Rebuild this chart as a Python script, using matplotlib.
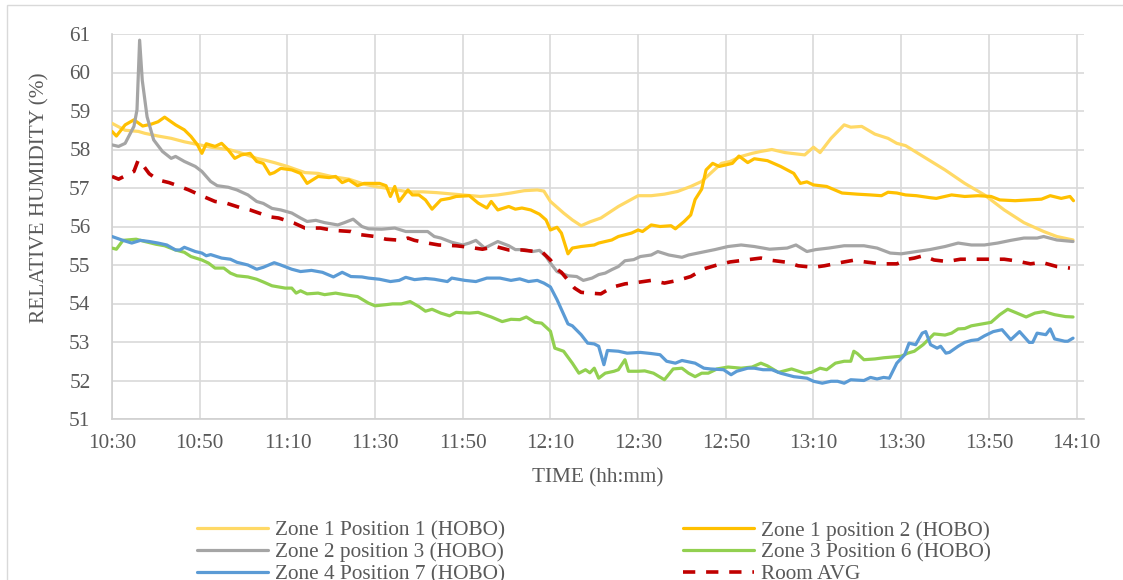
import matplotlib
matplotlib.use("Agg")
import matplotlib.pyplot as plt
from matplotlib.ticker import FuncFormatter, MultipleLocator
from matplotlib.patches import Rectangle

plt.rcParams['font.family'] = ['Liberation Serif', 'DejaVu Serif']

# Minutes after 10:30 and relative humidity (%) for each logger
z1p1_t = [0, 3, 6, 7.5, 10.5, 13.5, 16.5, 20, 22.5, 27, 30, 33, 35, 37, 40, 44, 47, 50, 54, 57.5,
          60, 64, 67.5, 71, 74, 76, 80, 84, 88, 91, 94, 97, 98.5, 100, 103, 105, 107, 109, 111.5,
          115.5, 120, 123, 126, 129, 132, 134.5, 136.5, 139, 141, 143.5, 146, 148, 150.5, 153.5,
          158, 160, 161.5, 164, 167, 168.5, 171, 174, 177, 179, 181, 185, 190, 194.5, 199, 203.5,
          208, 212.5, 215.5, 219.2]
z1p1_v = [58.68, 58.5, 58.47, 58.42, 58.35, 58.29, 58.2, 58.12, 58.06, 57.99, 57.89, 57.77, 57.72,
          57.66, 57.56, 57.4, 57.38, 57.3, 57.23, 57.1, 57.04, 56.97, 56.9, 56.9, 56.88, 56.86, 56.82,
          56.78, 56.82, 56.87, 56.93, 56.95, 56.92, 56.65, 56.35, 56.17, 56.02, 56.12, 56.22, 56.52,
          56.8, 56.8, 56.84, 56.91, 57.04, 57.17, 57.38, 57.64, 57.69, 57.82, 57.9, 57.95, 58.0,
          57.92, 57.86, 58.06, 57.92, 58.29, 58.64, 58.58, 58.6, 58.4, 58.29, 58.16, 58.1, 57.82,
          57.47, 57.12, 56.82, 56.43, 56.1, 55.87, 55.74, 55.65]

z1p2_t = [0, 1, 3, 5, 7, 9, 10.5, 12, 14.5, 16.5, 18, 19.5, 20.5, 21.5, 23.5, 25, 26.5, 28, 29.5,
          31.5, 33, 34.5, 36, 37, 38.5, 41, 43, 44.5, 47, 49.5, 51, 52.5, 54, 56, 57.5, 61, 62.5,
          63.5, 64.5, 65.5, 67.5, 68.5, 70, 71.5, 73, 75, 77, 78.5, 81.5, 83.5, 85.5, 86.5, 88, 90.5,
          92, 93.5, 95.5, 97.5, 99, 100, 101.5, 102.5, 104, 105, 107, 110, 111, 114, 115.5, 118.5,
          120, 121, 123, 125, 127.5, 128.5, 130.5, 132, 133, 134.5, 135.5, 137, 138.5, 141.5, 143,
          145, 146.5, 149.5, 152.5, 155.5, 157, 158.5, 160, 163, 166.5, 170, 173, 175.5, 177, 179,
          181, 183.5, 186.5, 188, 191.5, 194.5, 197.5, 200.5, 202.5, 206, 209, 212, 214, 216.5,
          218.5, 219.3]
z1p2_v = [58.47, 58.35, 58.64, 58.77, 58.61, 58.66, 58.72, 58.84, 58.64, 58.51, 58.34, 58.12, 57.9,
          58.15, 58.08, 58.16, 57.99, 57.77, 57.86, 57.9, 57.69, 57.64, 57.36, 57.4, 57.51, 57.47,
          57.38, 57.12, 57.3, 57.27, 57.3, 57.14, 57.21, 57.06, 57.12, 57.12, 57.06, 56.78, 57.04,
          56.65, 56.95, 56.82, 56.82, 56.69, 56.45, 56.69, 56.73, 56.78, 56.8, 56.61, 56.48, 56.65,
          56.43, 56.52, 56.45, 56.48, 56.43, 56.32, 56.17, 55.91, 55.98, 55.83, 55.29, 55.44, 55.48,
          55.52, 55.57, 55.65, 55.74, 55.83, 55.91, 55.87, 56.04, 56.0, 56.02, 55.94, 56.13, 56.3,
          56.7, 56.97, 57.47, 57.64, 57.56, 57.64, 57.83, 57.66, 57.76, 57.71, 57.56, 57.38, 57.12,
          57.16, 57.08, 57.04, 56.87, 56.84, 56.82, 56.8, 56.89, 56.87, 56.82, 56.8, 56.75, 56.73,
          56.82, 56.78, 56.8, 56.78, 56.69, 56.67, 56.69, 56.71, 56.8, 56.73, 56.78, 56.67]

z2p3_t = [0, 1.5, 3, 5, 5.7, 6.3, 6.9, 8, 9.5, 11.5, 13.5, 14.5, 16.5, 19, 20.5, 22.5, 24, 26.5,
          28.5, 31, 33, 34.5, 36.5, 38.5, 41, 43, 44.5, 46.5, 48.5, 51.5, 53, 55, 57, 58.5, 61.5,
          64.5, 67, 69, 72, 73.5, 75, 77.5, 80, 81.5, 83, 85, 88, 90.5, 92, 94, 96, 97.5, 99, 100,
          101.5, 104, 106, 107.5, 109.5, 111, 112.5, 114, 115.5, 117, 119, 120.5, 123, 124.5, 127,
          130, 131.5, 134.5, 137.5, 140.5, 143.5, 146.5, 150, 154, 156, 158.5, 160.5, 163.5, 167,
          171.5, 174.5, 177.5, 180, 183.5, 186.5, 190, 193, 196, 199, 202, 205, 208, 211, 212.5,
          215.5, 219.2]
z2p3_v = [58.12, 58.08, 58.16, 58.6, 59.03, 60.84, 59.8, 58.85, 58.25, 57.95, 57.77, 57.82, 57.69,
          57.56, 57.43, 57.17, 57.06, 57.02, 56.95, 56.82, 56.65, 56.6, 56.47, 56.43, 56.35, 56.22,
          56.13, 56.16, 56.1, 56.04, 56.1, 56.19, 56.0, 55.94, 55.93, 55.96, 55.87, 55.87, 55.87,
          55.74, 55.7, 55.59, 55.52, 55.57, 55.64, 55.44, 55.61, 55.5, 55.4, 55.4, 55.35, 55.38,
          55.22, 55.05, 54.83, 54.72, 54.7, 54.6, 54.66, 54.75, 54.79, 54.88, 54.96, 55.11, 55.14,
          55.22, 55.26, 55.35, 55.26, 55.2, 55.26, 55.33, 55.4, 55.48, 55.52, 55.48, 55.41, 55.44,
          55.52, 55.35, 55.4, 55.44, 55.5, 55.5, 55.44, 55.31, 55.29, 55.35, 55.4, 55.48, 55.57,
          55.52, 55.52, 55.57, 55.64, 55.7, 55.7, 55.74, 55.65, 55.61]

z3p6_t = [0, 1, 2.5, 5.5, 7.5, 10, 12, 14.5, 16.5, 18, 20.5, 22, 23.5, 25.5, 27, 28.5, 31, 33, 34.5,
          36.5, 39.5, 41, 42, 43, 44.5, 47, 48.5, 51, 53, 56, 58.5, 60, 62.5, 64, 66, 68, 70, 71.5,
          73, 75, 77, 78.5, 81.5, 83.5, 86.5, 89, 91, 93, 94.5, 96.5, 98, 100, 101, 103, 105, 106.5,
          107, 108, 109, 110, 111, 112.5, 114.5, 115.5, 117, 117.8, 120, 121.5, 123.5, 126, 128, 130,
          131.5, 133, 134.5, 136, 138, 140.5, 143.5, 146, 148, 149.5, 152, 155, 158, 159.5, 161.5,
          163, 165, 167, 168.5, 169.2, 170, 171.5, 174, 176, 178, 180, 181.5, 183, 185, 187.5, 190,
          191.5, 193, 194.5, 196, 198, 200.5, 202.5, 204.3, 206, 208.5, 210.5, 212.5, 215, 217.5,
          219.2]
z3p6_v = [55.44, 55.41, 55.64, 55.67, 55.61, 55.54, 55.5, 55.39, 55.33, 55.22, 55.13, 55.05, 54.92,
          54.92, 54.79, 54.72, 54.69, 54.63, 54.56, 54.46, 54.4, 54.4, 54.27, 54.33, 54.25, 54.27,
          54.23, 54.27, 54.23, 54.18, 54.01, 53.94, 53.97, 53.99, 53.99, 54.05, 53.92, 53.8, 53.85,
          53.75, 53.68, 53.77, 53.75, 53.77, 53.65, 53.53, 53.59, 53.58, 53.65, 53.51, 53.49, 53.28,
          52.84, 52.76, 52.45, 52.19, 52.22, 52.28, 52.2, 52.32, 52.06, 52.19, 52.24, 52.28, 52.54,
          52.24, 52.24, 52.25, 52.19, 52.02, 52.3, 52.32, 52.19, 52.1, 52.19, 52.19, 52.3, 52.35,
          52.32, 52.35, 52.45, 52.38, 52.21, 52.3, 52.19, 52.21, 52.32, 52.28, 52.45, 52.5, 52.5,
          52.76, 52.7, 52.54, 52.56, 52.59, 52.61, 52.63, 52.71, 52.76, 52.93, 53.21, 53.18, 53.23,
          53.34, 53.35, 53.42, 53.46, 53.51, 53.71, 53.85, 53.77, 53.65, 53.75, 53.79, 53.71, 53.66,
          53.65]

z4p7_t = [0, 2.5, 4.5, 6.5, 8.5, 10.5, 12.5, 14.5, 15.5, 16.5, 19, 20.5, 21.5, 22.5, 25, 27, 28.5,
          31, 33, 34.5, 37, 38.5, 41, 43, 45.5, 48, 50.5, 52.5, 54.5, 57, 58.5, 61, 63.5, 65.5, 67,
          69, 71.5, 73.5, 76.5, 77.5, 80.5, 83, 85.5, 88.5, 91, 93, 95, 97, 98.5, 100, 101.5, 104,
          105, 107, 108.5, 110, 111, 112.2, 113, 115.5, 117.5, 120.5, 123, 125, 126.5, 128.5, 130,
          133, 135, 136.5, 139.5, 141.2, 142.5, 145, 146.5, 148.5, 150.5, 152.5, 155.5, 158.5, 160,
          162, 164, 165.5, 167, 168.5, 171.5, 173, 174.5, 176, 177.3, 179, 180.8, 181.8, 183.3,
          184.8, 185.6, 186.7, 188.2, 189, 190.2, 191, 193, 194.5, 196, 197.5, 199, 201, 203, 205,
          207, 209.2, 210, 211, 213, 214, 215, 217.3, 218, 219.2]
z4p7_v = [55.74, 55.64, 55.57, 55.64, 55.61, 55.57, 55.52, 55.39, 55.39, 55.46, 55.35, 55.31, 55.24,
          55.27, 55.18, 55.15, 55.07, 55.0, 54.89, 54.94, 55.06, 55.0, 54.89, 54.83, 54.86, 54.81,
          54.69, 54.81, 54.7, 54.69, 54.66, 54.63, 54.57, 54.6, 54.68, 54.62, 54.65, 54.63, 54.57,
          54.66, 54.6, 54.57, 54.66, 54.66, 54.6, 54.64, 54.57, 54.6, 54.53, 54.43, 54.1, 53.47,
          53.42, 53.19, 52.97, 52.95, 52.89, 52.41, 52.78, 52.76, 52.71, 52.73, 52.7, 52.67, 52.5,
          52.45, 52.52, 52.45, 52.32, 52.3, 52.28, 52.15, 52.24, 52.32, 52.32, 52.28, 52.28, 52.19,
          52.1, 52.06, 51.98, 51.93, 51.98, 51.98, 51.93, 52.02, 52.0, 52.08, 52.04, 52.08, 52.06,
          52.45, 52.67, 52.97, 52.93, 53.23, 53.27, 52.93, 52.84, 52.89, 52.71, 52.73, 52.89, 52.99,
          53.04, 53.06, 53.16, 53.27, 53.32, 53.06, 53.27, 52.99, 52.99, 53.23, 53.19, 53.34, 53.08,
          53.02, 53.02, 53.1]

avg_t = [0, 1.5, 5, 6, 7, 8.5, 10.5, 13, 14.5, 17.5, 20, 23.5, 26, 29.5, 31.5, 34, 36, 38, 41.5, 44,
         47.5, 50.5, 54.5, 56.5, 60, 62.5, 66, 67.5, 69, 72, 74.5, 78.5, 81.5, 84.5, 87.5, 90.5, 93.5,
         96.5, 98, 100, 101.5, 102.5, 105.5, 107, 109, 111.5, 114, 117, 120, 123, 126, 129, 132, 135,
         138, 141, 144.5, 148, 150.5, 154, 156.5, 160, 162.5, 166.5, 169, 172.5, 175.5, 179, 181.5,
         183, 185, 187.5, 190.5, 193.5, 197.5, 200.5, 203.5, 206, 209.5, 212, 215.5, 218.5]
avg_v = [57.3, 57.23, 57.43, 57.73, 57.6, 57.37, 57.21, 57.14, 57.08, 56.95, 56.82, 56.65, 56.61,
         56.48, 56.43, 56.33, 56.25, 56.22, 56.09, 55.96, 55.96, 55.9, 55.87, 55.79, 55.74, 55.67,
         55.64, 55.7, 55.64, 55.57, 55.52, 55.5, 55.46, 55.41, 55.48, 55.39, 55.39, 55.35, 55.35,
         55.13, 54.89, 54.81, 54.4, 54.29, 54.27, 54.25, 54.42, 54.51, 54.55, 54.6, 54.53, 54.6,
         54.7, 54.9, 55.0, 55.08, 55.13, 55.18, 55.12, 55.07, 54.98, 54.94, 54.98, 55.07, 55.12,
         55.07, 55.03, 55.03, 55.15, 55.18, 55.24, 55.13, 55.09, 55.15, 55.15, 55.15, 55.15, 55.11,
         55.03, 55.07, 54.96, 54.92]

labels = ["Zone 1 Position 1 (HOBO)", "Zone 1 position 2 (HOBO)", "Zone 2 position 3 (HOBO)",
          "Zone 3 Position 6 (HOBO)", "Zone 4 Position 7 (HOBO)", "Room AVG"]
colors = ["#FFD966", "#FFC000", "#A5A5A5", "#92D050", "#5B9BD5", "#C00000"]

TEXT = "#595959"
FS = 15.3
W, H = 1123, 580

fig = plt.figure(figsize=(W / 100, H / 100), dpi=100)
ax = fig.add_axes([112 / W, 1 - 419 / H, (1084 - 112) / W, (419 - 34) / H])

series = [(z1p1_t, z1p1_v), (z1p2_t, z1p2_v), (z2p3_t, z2p3_v),
          (z3p6_t, z3p6_v), (z4p7_t, z4p7_v)]
handles = []
for (t, v), lab, col in zip(series, labels[:5], colors[:5]):
    h, = ax.plot(t, v, color=col, lw=2.3, label=lab, solid_joinstyle='round',
                 solid_capstyle='round', zorder=3)
    handles.append(h)
h, = ax.plot(avg_t, avg_v, color=colors[5], lw=2.6, ls=(0, (3.4, 3.0)),
             dash_capstyle='butt', label=labels[5], zorder=4)
handles.append(h)

ax.set_xlim(0, 221.7)
ax.set_ylim(51, 61)
ax.xaxis.set_major_locator(MultipleLocator(20))
ax.yaxis.set_major_locator(MultipleLocator(1))


def hhmm(x, pos):
    m = 630 + int(round(x))
    return f"{m // 60}:{m % 60:02d}"


ax.xaxis.set_major_formatter(FuncFormatter(hhmm))
ax.yaxis.set_major_formatter(FuncFormatter(lambda y, p: f"{int(round(y))}"))
ax.grid(True, color="#D9D9D9", lw=1.2, zorder=0)
ax.set_axisbelow(True)
for s in ("top", "right"):
    ax.spines[s].set_visible(False)
for s in ("left", "bottom"):
    ax.spines[s].set_color("#D0D0D0")
    ax.spines[s].set_linewidth(1.2)
ax.tick_params(length=0, labelsize=FS, labelcolor=TEXT)
ax.tick_params(axis='y', pad=15.5)
ax.tick_params(axis='x', pad=11)

fig.text(40 / W, 1 - 198 / H, "RELATIVE HUMIDITY (%)", rotation=90, ha="center",
         va="center", fontsize=FS, color=TEXT)
fig.text(597.5 / W, 1 - 478 / H, "TIME (hh:mm)", ha="center", va="center",
         fontsize=FS, color=TEXT)

order = [0, 2, 4, 1, 3, 5]
fig.legend([handles[i] for i in order], [labels[i] for i in order], ncol=2,
           loc="upper left", bbox_to_anchor=(197 / W, 1 - 521 / H), frameon=False,
           fontsize=FS, handlelength=3.35, handletextpad=0.3, columnspacing=8.4,
           labelspacing=0.08, borderpad=0, borderaxespad=0, labelcolor=TEXT)

fig.patches.append(Rectangle((7 / W, -0.2), 1.2, 1.2 - 5 / H, transform=fig.transFigure,
                             fill=False, ec="#D9D9D9", lw=1))

fig.savefig("out.png", dpi=100)
